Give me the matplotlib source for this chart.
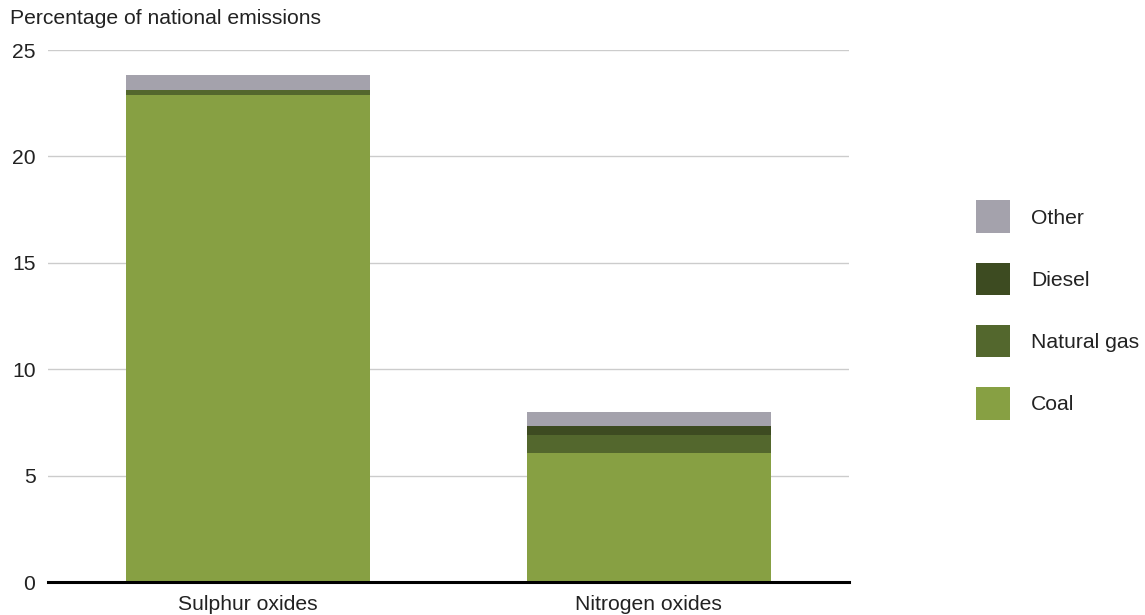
import matplotlib
matplotlib.use("Agg")
import matplotlib.pyplot as plt
import numpy as np

categories = ["Sulphur oxides", "Nitrogen oxides"]
coal = [22.9, 6.08]
natural_gas = [0.2, 0.82]
diesel = [0.02, 0.45]
other = [0.72, 0.65]
series_names = ["Coal", "Natural gas", "Diesel", "Other"]
colors = ["#87a043", "#53672d", "#3d4b21", "#a4a2ac"]
yticks = [0, 5, 10, 15, 20, 25]

plt.rcParams['font.family'] = ['Liberation Sans', 'DejaVu Sans']
fs = 15.2

fig = plt.figure(figsize=(11.45, 6.15), dpi=100)
ax = fig.add_axes([48/1145, 33/615, (849-48)/1145, (582-50)/615])

x = np.arange(len(categories))
bottom = np.zeros(len(categories))
handles = []
for vals, name, c in zip([coal, natural_gas, diesel, other], series_names, colors):
    b = ax.bar(x, vals, width=0.61, bottom=bottom, color=c, label=name, zorder=3)
    handles.append(b)
    bottom += np.array(vals)

ax.set_xlim(-0.5, 1.5)
ax.set_ylim(0, 25)
ax.set_yticks(yticks)
ax.set_yticklabels([str(t) for t in yticks], fontsize=fs, color="#222222")
ax.set_xticks(x)
ax.set_xticklabels(categories, fontsize=fs, color="#222222")
ax.tick_params(axis='both', length=0)
ax.tick_params(axis='y', pad=9)
ax.tick_params(axis='x', pad=9)
ax.grid(axis='y', color="#cccccc", linewidth=1.0, zorder=0)
for s in ["top", "right", "left"]:
    ax.spines[s].set_visible(False)
ax.spines["bottom"].set_color("black")
ax.spines["bottom"].set_linewidth(2.2)
ax.spines["bottom"].set_zorder(4)

fig.text(10/1145, 1 - 9/615, "Percentage of national emissions", fontsize=fs,
         color="#222222", ha="left", va="top")

leg = fig.legend(handles[::-1], series_names[::-1], loc="center left",
                 bbox_to_anchor=(968/1145, 1 - 310/615), frameon=False,
                 fontsize=fs, handlelength=1.6, handleheight=2.01,
                 labelspacing=1.39, handletextpad=1.0, borderaxespad=0)
for t in leg.get_texts():
    t.set_color("#222222")

fig.savefig("out.png", dpi=100)
